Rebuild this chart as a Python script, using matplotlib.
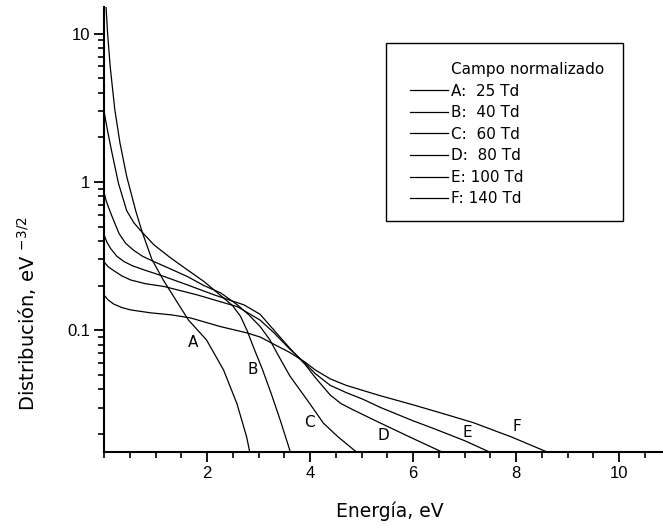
import matplotlib
matplotlib.use("Agg")
import matplotlib.pyplot as plt
from matplotlib.lines import Line2D
from matplotlib.patches import Rectangle
from matplotlib.ticker import FixedLocator, MultipleLocator, LogLocator, NullFormatter

plt.rcParams['font.family'] = ['DejaVu Sans']
plt.rcParams['mathtext.default'] = 'regular'

# curves (energy in eV, distribution in eV^-3/2)
A_x = [0, 0.04, 0.07, 0.12, 0.21, 0.31, 0.44, 0.62, 0.74, 0.93, 1.15, 1.35, 1.64, 1.99, 2.32, 2.58, 2.77, 2.83]
A_y = [17, 15.0, 10.0, 6.0, 3.06, 1.83, 1.09, 0.63, 0.46, 0.30, 0.218, 0.169, 0.117, 0.086, 0.054, 0.032, 0.019, 0.015]

B_x = [0, 0.07, 0.15, 0.28, 0.44, 0.58, 0.71, 0.97, 1.30, 1.62, 1.94, 2.33, 2.50, 2.65, 2.78, 2.90, 3.07, 3.25, 3.42, 3.62]
B_y = [3.0, 2.2, 1.60, 0.98, 0.64, 0.53, 0.47, 0.376, 0.306, 0.255, 0.213, 0.164, 0.146, 0.124, 0.099, 0.077, 0.055, 0.037, 0.0248, 0.015]

C_x = [0, 0.04, 0.09, 0.16, 0.29, 0.42, 0.58, 0.75, 0.97, 1.30, 1.62, 1.94, 2.27, 2.59, 2.80, 3.03, 3.22, 3.40, 3.61, 3.94, 4.26, 4.55, 4.91]
C_y = [0.85, 0.75, 0.67, 0.58, 0.45, 0.385, 0.345, 0.315, 0.29, 0.258, 0.23, 0.20, 0.178, 0.148, 0.128, 0.106, 0.086, 0.066, 0.049, 0.034, 0.0236, 0.019, 0.015]

D_x = [0, 0.06, 0.13, 0.25, 0.39, 0.55, 0.78, 1.17, 1.62, 2.14, 2.72, 3.03, 3.30, 3.60, 3.90, 4.10, 4.39, 4.60, 4.84, 5.36, 6.0, 6.58]
D_y = [0.44, 0.39, 0.355, 0.315, 0.29, 0.272, 0.255, 0.23, 0.202, 0.173, 0.148, 0.128, 0.100, 0.076, 0.059, 0.048, 0.0366, 0.032, 0.029, 0.0237, 0.0186, 0.015]

E_x = [0, 0.08, 0.19, 0.35, 0.52, 0.80, 1.17, 1.81, 2.59, 3.03, 3.30, 3.60, 3.90, 4.10, 4.39, 4.70, 5.03, 5.36, 6.0, 6.39, 7.0, 7.50]
E_y = [0.289, 0.268, 0.252, 0.232, 0.218, 0.206, 0.197, 0.173, 0.144, 0.117, 0.096, 0.075, 0.060, 0.051, 0.0425, 0.038, 0.0342, 0.0302, 0.0245, 0.0218, 0.018, 0.015]

F_x = [0, 0.08, 0.19, 0.35, 0.52, 0.90, 1.30, 1.68, 2.25, 2.77, 3.03, 3.28, 3.60, 3.90, 4.10, 4.39, 4.70, 5.03, 5.36, 6.0, 6.66, 7.17, 7.92, 8.62]
F_y = [0.173, 0.160, 0.150, 0.142, 0.137, 0.131, 0.127, 0.121, 0.106, 0.096, 0.090, 0.081, 0.071, 0.061, 0.054, 0.047, 0.0425, 0.0392, 0.0362, 0.0314, 0.0269, 0.0238, 0.019, 0.015]

curve_names = ['A', 'B', 'C', 'D', 'E', 'F']
fields = ['A:  25 Td', 'B:  40 Td', 'C:  60 Td', 'D:  80 Td', 'E: 100 Td', 'F: 140 Td']
curves = [(A_x, A_y), (B_x, B_y), (C_x, C_y), (D_x, D_y), (E_x, E_y), (F_x, F_y)]

# where the letters sit next to each curve
label_pos = [(1.73, 0.083), (2.89, 0.054), (3.98, 0.0238), (5.42, 0.0196), (7.05, 0.0205), (8.02, 0.0223)]

fig = plt.figure(figsize=(6.63, 5.29), dpi=100)
ax = fig.add_axes([104/663, 1 - 452/529, 559/663, 445/529])

handles = []
for (x, y), lab in zip(curves, fields):
    ln, = ax.plot(x, y, color='black', lw=0.9)
    handles.append(ln)

for name, (lx, ly) in zip(curve_names, label_pos):
    ax.text(lx, ly, name, ha='center', va='center', fontsize=11)

ax.set_yscale('log')
ax.set_xlim(0, 10.85)
ax.set_ylim(0.0151, 15.1)

ax.spines['top'].set_visible(False)
ax.spines['right'].set_visible(False)
for s in ['left', 'bottom']:
    ax.spines[s].set_linewidth(1.5)

ax.xaxis.set_major_locator(FixedLocator([2, 4, 6, 8, 10]))
ax.xaxis.set_minor_locator(MultipleLocator(0.5))
ax.yaxis.set_major_locator(FixedLocator([0.1, 1, 10]))
ax.set_yticklabels(['0.1', '1', '10'])
ax.yaxis.set_minor_locator(LogLocator(base=10, subs=range(2, 10)))
ax.yaxis.set_minor_formatter(NullFormatter())
ax.tick_params(which='major', direction='out', length=7, width=1.3, labelsize=12, pad=3)
ax.tick_params(which='minor', direction='out', length=4.5, width=1.2)
for t in ax.get_xticklabels() + ax.get_yticklabels():
    t.set_fontfamily('Liberation Sans')

ax.text(0.512, -0.147, 'Energía, eV', transform=ax.transAxes, ha='center', va='baseline', fontsize=13.5)
ax.text(-0.138, 0.31, 'Distribución, eV $^{-3/2}$', transform=ax.transAxes, rotation=90,
        ha='center', va='center', fontsize=14)

# legend box drawn by hand, entries through the legend
ax.add_patch(Rectangle((282/559, 231/445), 237/559, 178/445, transform=ax.transAxes,
                       fill=False, edgecolor='black', lw=1.0, clip_on=False, zorder=5))
title_handle = Line2D([], [], color='none')
leg = ax.legend([title_handle] + handles, ['Campo normalizado'] + fields,
                loc='upper left', bbox_to_anchor=(306/559, 390/445), frameon=False,
                fontsize=11, handlelength=2.5, handletextpad=0.2, labelspacing=0.43,
                borderpad=0, borderaxespad=0)

fig.savefig('out.png', dpi=100)
